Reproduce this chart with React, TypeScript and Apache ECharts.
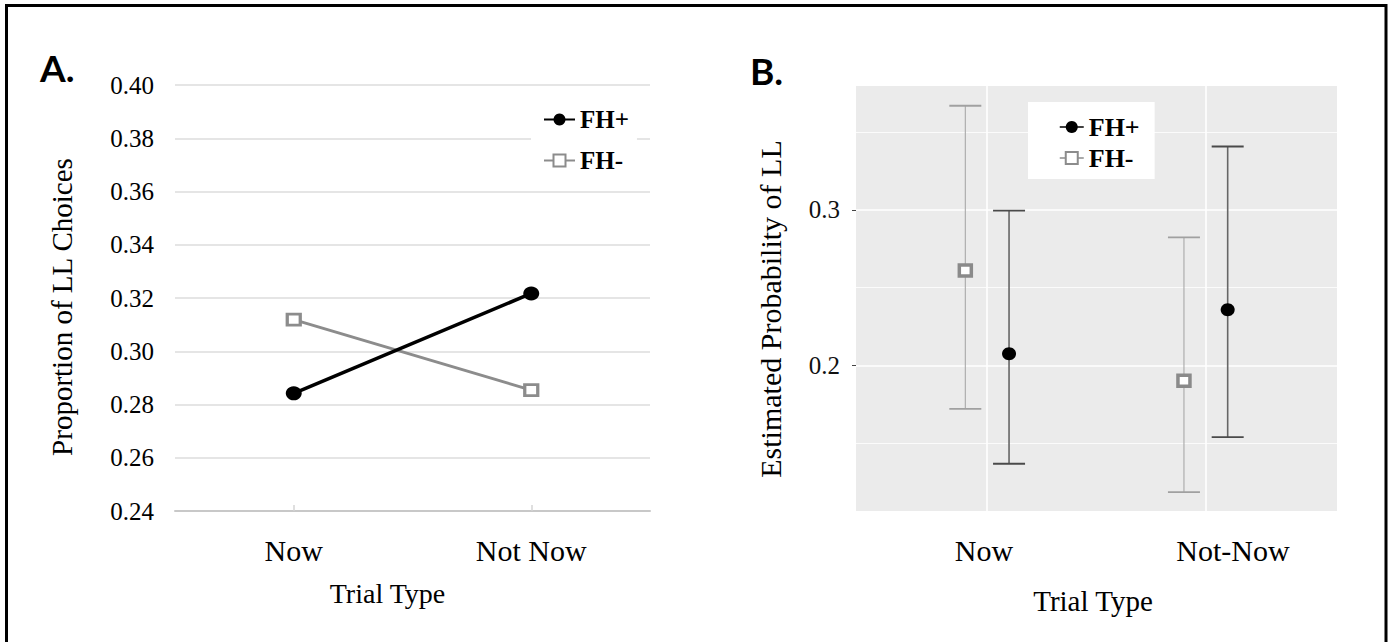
import React, { useEffect, useRef } from 'react';
import * as echarts from 'echarts';

// ---------- Panel A data ----------
const trialTypesA = ['Now', 'Not Now'];
const fhPlusA = [0.2842, 0.3217];
const fhMinusA = [0.3119, 0.2854];
const yMinA = 0.24;
const yMaxA = 0.4;
const yStepA = 0.02;

// ---------- Panel B data ----------
const trialTypesB = ['Now', 'Not-Now'];
const fhPlusEstB = [0.2074, 0.2357];
const fhPlusLowB = [0.1367, 0.1538];
const fhPlusHighB = [0.2994, 0.3407];
const fhMinusEstB = [0.261, 0.19];
const fhMinusLowB = [0.172, 0.1185];
const fhMinusHighB = [0.3669, 0.2822];
const yTickLabelsB = [0.2, 0.3];
const yMinorGridB = [0.15, 0.25, 0.35];
const yMinB = 0.1063;
const yMaxB = 0.3796;

const SERIF = 'Liberation Serif';

function errorRenderer(kind: 'plus' | 'minus') {
  return (params: any, api: any) => {
    const dodge = kind === 'plus' ? 0.1 : -0.1;
    const xv = api.value(0) + dodge;
    const pe = api.coord([xv, api.value(1)]);
    const pl = api.coord([xv, api.value(2)]);
    const ph = api.coord([xv, api.value(3)]);
    const cx = pe[0];
    const lineColor = kind === 'plus' ? '#666666' : '#a8a8a8';
    const capColor = kind === 'plus' ? '#4a4a4a' : '#a0a0a0';
    const half = 16;
    const children: any[] = [
      { type: 'line', shape: { x1: cx, y1: ph[1], x2: cx, y2: pl[1] }, style: { stroke: lineColor, lineWidth: kind === 'plus' ? 1.6 : 1.1 } },
      { type: 'line', shape: { x1: cx - half, y1: ph[1], x2: cx + half, y2: ph[1] }, style: { stroke: capColor, lineWidth: 1.8 } },
      { type: 'line', shape: { x1: cx - half, y1: pl[1], x2: cx + half, y2: pl[1] }, style: { stroke: capColor, lineWidth: 1.8 } },
    ];
    if (kind === 'plus') {
      children.push({ type: 'ellipse', shape: { cx, cy: pe[1], rx: 7, ry: 6.5 }, style: { fill: '#000' } });
    } else {
      children.push({ type: 'rect', shape: { x: cx - 6, y: pe[1] - 5.5, width: 12, height: 11 }, style: { fill: '#fff', stroke: '#8a8a8a', lineWidth: 3.5 } });
    }
    return { type: 'group', children };
  };
}

export default function App() {
  const ref = useRef<HTMLDivElement>(null);
  useEffect(() => {
    document.body.style.margin = '0';
    const chart = echarts.init(ref.current!, undefined, { renderer: 'svg' });
    const dataPlusB = trialTypesB.map((_, i) => [i + 1, fhPlusEstB[i], fhPlusLowB[i], fhPlusHighB[i]]);
    const dataMinusB = trialTypesB.map((_, i) => [i + 1, fhMinusEstB[i], fhMinusLowB[i], fhMinusHighB[i]]);

    const option: any = {
      animation: false,
      backgroundColor: '#fff',
      textStyle: { fontFamily: SERIF },
      grid: [
        { left: 175, right: 745, top: 85, bottom: 131, show: false },
        { left: 856, right: 58, top: 86, bottom: 131, show: true, backgroundColor: '#ebebeb', borderWidth: 0 },
        { left: 859.5, right: 37.5, top: 86, bottom: 131, show: false },
      ],
      xAxis: [
        {
          type: 'category', gridIndex: 0, data: trialTypesA, boundaryGap: true,
          axisLine: { show: true, lineStyle: { color: '#c8c8c8', width: 2 } },
          axisTick: { show: true, alignWithLabel: true, inside: true, length: 6, lineStyle: { color: '#d4d4d4', width: 1.5 } },
          axisLabel: { margin: 39, verticalAlign: 'middle', fontFamily: SERIF, fontSize: 30, color: '#000' },
        },
        {
          type: 'value', gridIndex: 1, min: 0.4, max: 2.6,
          axisLine: { show: false }, axisTick: { show: false }, axisLabel: { show: false }, splitLine: { show: false },
        },
        {
          type: 'category', gridIndex: 2, data: trialTypesB, boundaryGap: true,
          axisLine: { show: false }, axisTick: { show: false }, splitLine: { show: false },
          axisLabel: { margin: 39, verticalAlign: 'middle', fontFamily: SERIF, fontSize: 30, color: '#000' },
        },
      ],
      yAxis: [
        {
          type: 'value', gridIndex: 0, min: yMinA, max: yMaxA, interval: yStepA,
          axisLine: { show: false }, axisTick: { show: false },
          splitLine: { show: true, lineStyle: { color: '#dcdcdc', width: 1.5 } },
          axisLabel: { margin: 21, fontFamily: SERIF, fontSize: 25, color: '#000', formatter: (v: number) => v.toFixed(2) },
        },
        {
          type: 'value', gridIndex: 1, min: yMinB, max: yMaxB,
          axisLine: { show: false },
          axisTick: { show: true, customValues: yTickLabelsB, length: 4, lineStyle: { color: '#444', width: 1 } },
          splitLine: { show: false },
          axisLabel: { customValues: yTickLabelsB, margin: 16, fontFamily: SERIF, fontSize: 25, color: '#111', formatter: (v: number) => v.toFixed(1) },
        },
        {
          type: 'value', gridIndex: 2, show: false,
        },
      ],
      legend: [
        {
          data: ['FH+', 'FH-'], orient: 'vertical', left: 531, top: 99,
          padding: [8, 8, 8, 12], itemGap: 16, itemWidth: 31, itemHeight: 15,
          backgroundColor: '#fff', selectedMode: false,
          textStyle: { fontFamily: SERIF, fontWeight: 'bold', fontSize: 25, color: '#000' },
        },
        {
          data: ['FH+', 'FH-'], orient: 'vertical', left: 1028, top: 102,
          padding: [12, 15, 8, 31], itemGap: 5, itemWidth: 24, itemHeight: 15,
          backgroundColor: '#fff', selectedMode: false,
          lineStyle: { width: 1.5 },
          textStyle: { fontFamily: SERIF, fontWeight: 'bold', fontSize: 26, color: '#000' },
        },
      ],
      series: [
        {
          type: 'line', name: 'FH-', xAxisIndex: 0, yAxisIndex: 0, data: fhMinusA,
          symbol: 'rect', symbolSize: [13, 11],
          lineStyle: { color: '#8c8c8c', width: 3 },
          itemStyle: { color: '#fff', borderColor: '#8c8c8c', borderWidth: 3 },
          z: 3,
        },
        {
          type: 'line', name: 'FH+', xAxisIndex: 0, yAxisIndex: 0, data: fhPlusA,
          symbol: 'circle', symbolSize: [16, 14],
          lineStyle: { color: '#000', width: 3.5 },
          itemStyle: { color: '#000' },
          z: 4,
        },
        {
          type: 'custom', name: 'FH-', xAxisIndex: 1, yAxisIndex: 1, data: dataMinusB,
          encode: { x: 0, y: [1, 2, 3] },
          renderItem: errorRenderer('minus'),
          z: 3,
          markLine: {
            silent: true, symbol: 'none', z: 1, label: { show: false },
            lineStyle: { color: '#ffffff', type: 'solid', width: 1.6 },
            data: [
              ...yTickLabelsB.map((v) => ({ yAxis: v, lineStyle: { color: '#ffffff', type: 'solid', width: 1.6 } })),
              ...yMinorGridB.map((v) => ({ yAxis: v, lineStyle: { color: '#ffffff', type: 'solid', width: 0.8 } })),
              ...trialTypesB.map((_, i) => ({ xAxis: i + 1, lineStyle: { color: '#ffffff', type: 'solid', width: 1.6 } })),
            ],
          },
        },
        {
          type: 'custom', name: 'FH+', xAxisIndex: 1, yAxisIndex: 1, data: dataPlusB,
          encode: { x: 0, y: [1, 2, 3] },
          renderItem: errorRenderer('plus'),
          z: 4,
        },
      ],
      graphic: [
        { type: 'rect', shape: { x: 6.5, y: 5.5, width: 1379.5, height: 700 }, style: { fill: 'none', stroke: '#000', lineWidth: 3 }, silent: true },
        { type: 'text', x: 40, y: 67, style: { text: 'A.', fontFamily: 'Lato', fontWeight: 'bold', fontSize: 37, fill: '#000', align: 'left', verticalAlign: 'middle' } },
        { type: 'text', x: 750, y: 70, style: { text: 'B.', fontFamily: 'Lato', fontWeight: 'bold', fontSize: 37, fill: '#000', align: 'left', verticalAlign: 'middle' } },
        { type: 'text', x: 62, y: 307, rotation: Math.PI / 2, style: { text: 'Proportion of LL Choices', fontFamily: SERIF, fontSize: 29, fill: '#000', align: 'center', verticalAlign: 'middle' } },
        { type: 'text', x: 770, y: 309, rotation: Math.PI / 2, style: { text: 'Estimated Probability of LL', fontFamily: SERIF, fontSize: 30, fill: '#000', align: 'center', verticalAlign: 'middle' } },
        { type: 'text', x: 387.5, y: 593, style: { text: 'Trial Type', fontFamily: SERIF, fontSize: 28, fill: '#000', align: 'center', verticalAlign: 'middle' } },
        { type: 'text', x: 1093, y: 601, style: { text: 'Trial Type', fontFamily: SERIF, fontSize: 29, fill: '#000', align: 'center', verticalAlign: 'middle' } },
      ],
    };
    chart.setOption(option);
    return () => chart.dispose();
  }, []);
  return <div ref={ref} style={{ position: 'fixed', left: 0, top: 0, width: 1395, height: 642 }} />;
}
